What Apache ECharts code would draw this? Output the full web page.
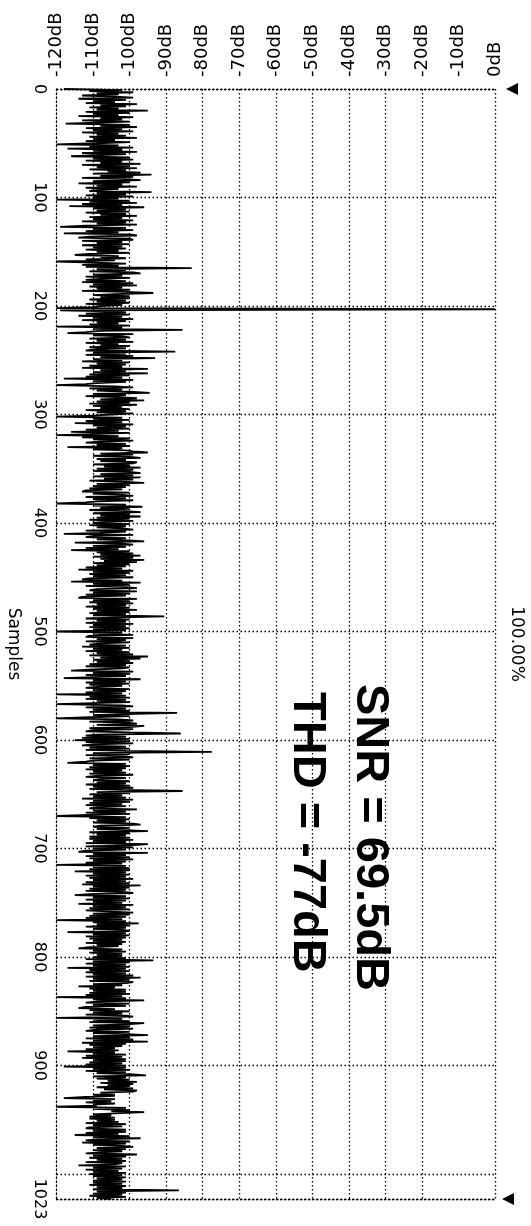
<!DOCTYPE html>
<html>
<head>
<meta charset="utf-8">
<script src="https://cdn.jsdelivr.net/npm/echarts@6/dist/echarts.min.js"></script>
<style>
html,body{margin:0;padding:0;background:#fff;}
#chart{width:531px;height:1226px;}
</style>
</head>
<body>
<div id="chart"></div>
<script>
// ---- axis ticks ----
const dbTicks = [-120,-110,-100,-90,-80,-70,-60,-50,-40,-30,-20,-10,0];
const dbGridLines = [-110,-100,-90,-80,-70,-60,-50,-40,-30,-20,0];
const sampleTicks = [0,100,200,300,400,500,600,700,800,900,1023];
const sampleAxisName = 'Samples';
const scaleNote = '100.00%';
const snrText = 'SNR = 69.5dB';
const thdText = 'THD = -77dB';

// ---- spectrum values (dB), one per sample ----
const dbSamples0to255 = [
-118,-102,-111,-99,-109,-103,-113,-104,-99,-114,-101,-110,-104,-112,-98,-108,
-101,-111,-103,-109,-95,-112,-100,-110,-103,-114,-99,-108,-102,-113,-100,-109,
-117.5,-100,-108,-98,-112,-102,-110,-99,-113,-103,-109,-101,-111,-98,-110,-104,
-112,-100,-109,-120,-103,-111,-99,-117,-102,-110,-98,-113,-101,-108,-116,-100,
-110,-99,-112,-102,-108,-97,-113,-100,-109,-98,-111,-101,-106,-97,-110,-94,
-108,-99,-113,-101,-97,-110,-100,-114,-102,-109,-98,-112,-103,-108,-111,-94,
-109,-101,-112,-99,-110,-103,-120,-100,-111,-98,-113,-102,-116.5,-96,-110,-101,
-109,-100,-112,-101,-108,-98,-111,-102,-110,-99,-113,-101,-109,-98,-112,-119,
-101,-110,-99,-112,-103,-118,-100,-98,-111,-114,-100,-99,-113,-102,-109,-100,
-113,-102,-110,-101,-112,-103,-109,-100,-111,-115,-103,-108,-101,-112,-104,-120,
-110,-101,-113,-103,-112,-83,-109,-101,-111,-99,-97,-110,-102,-112,-100,-108,
-112,-101,-113,-99,-110,-98,-111,-102,-109,-100,-113,-101,-93.5,-104,-110,-100,
-108,-100,-111,-101,-109,-100,-112,-102,-108,-110,-120,0,-119,-106,-101,-112,
-100,-114,-102,-110,-99,-113,-101,-109,-103,-111,-100,-120,-102,-110,-85.5,-108,
-112,-117,-99,-110,-102,-100,-111,-101,-109,-99,-112,-103,-108,-100,-111,-101,
-109,-112,-87.5,-110,-101,-112,-99,-108,-93,-110,-102,-113,-100,-109,-101,-111
];
const dbSamples256to511 = [
-102,-113,-95,-108,-101,-110,-95,-111,-100,-112,-102,-118,-99,-110,-101,-109,
-112,-120,-104,-99,-111,-102,-109,-100,-94.5,-110,-101,-112,-103,-98,-108,-96,
-109,-100,-111,-98,-110,-102,-108,-100,-112,-101,-109,-99,-105,-110,-120,-102,
-110,-100,-112,-102,-115,-99,-110,-101,-109,-100,-112,-103,-116,-100,-110,-120,
-103,-113,-100,-110,-99,-108,-112,-101,-109,-100,-117,-102,-110,-101,-99,-95,
-108,-99,-110,-100,-97,-109,-101,-108,-98,-99,-110,-100,-107,-97,-109,-99,
-110,-100,-97,-108,-99,-110,-97,-107,-99,-111,-101,-96,-109,-100,-110,-101,
-111,-102,-112,-113,-100,-110,-102,-99,-112,-101,-110,-99,-109,-112,-120,-101,
-110,-96.5,-108,-100,-111,-101,-97,-110,-100,-108,-97,-109,-100,-111,-99,-107,
-110,-100,-111,-101,-109,-102,-99,-112,-101,-108,-118,-99,-110,-112,-101,-109,
-100,-96,-115,-102,-99,-110,-101,-112,-103,-116,-100,-109,-99,-108,-97,-110,
-99,-108,-96,-107,-98,-110,-100,-109,-101,-112,-102,-114,-99,-110,-100,-111,
-101,-110,-99,-111,-113,-102,-116,-97,-110,-100,-112,-101,-98,-109,-111,-98,
-110,-100,-112,-101,-113,-114,-98,-110,-100,-111,-99,-109,-101,-112,-100,-110,
-98,-109,-100,-111,-101,-110,-90.5,-102,-112,-100,-109,-101,-112,-99,-110,-101,
-111,-100,-110,-101,-120,-102,-110,-99,-111,-112,-99,-109,-101,-112,-100,-108
];
const dbSamples512to767 = [
-111,-101,-113,-100,-110,-102,-112,-100,-109,-99,-111,-95,-108,-97,-110,-100,
-109,-99,-111,-101,-112,-100,-102,-110,-116,-99,-110,-100,-112,-101,-110,-118,
-97,-110,-101,-112,-100,-111,-102,-109,-112,-100,-110,-101,-112,-102,-120,-101,
-111,-100,-112,-101,-109,-100,-110,-120,-102,-99,-112,-101,-110,-100,-111,-87,
-101,-110,-100,-111,-120,-103,-99,-111,-101,-98,-109,-96,-100,-111,-99,-110,
-112,-100,-86,-109,-112,-101,-113,-100,-115,-100,-112,-99,-110,-113,-101,-111,
-100,-112,-101,-77.5,-110,-100,-112,-101,-99,-111,-100,-110,-112,-117,-101,-110,
-100,-111,-101,-112,-102,-110,-101,-111,-99,-109,-112,-101,-108,-110,-100,-109,
-101,-112,-100,-110,-99,-111,-102,-85.5,-109,-100,-111,-102,-110,-101,-113,-99,
-110,-100,-111,-102,-112,-101,-109,-111,-98,-110,-101,-112,-100,-111,-120,-101,
-111,-100,-109,-101,-110,-99,-97,-108,-110,-100,-109,-101,-95,-111,-100,-109,
-101,-111,-100,-111,-99,-110,-101,-112,-95,-100,-112,-99,-110,-101,-112,-114,
-95,-110,-101,-112,-100,-111,-99,-110,-101,-112,-102,-120,-101,-110,-100,-111,
-100,-115,-101,-110,-100,-112,-101,-111,-99,-110,-101,-112,-100,-113,-97,-110,
-100,-111,-101,-112,-102,-99,-111,-115,-101,-110,-100,-112,-101,-110,-102,-114,
-99,-110,-101,-111,-100,-112,-112,-99,-110,-100,-111,-101,-112,-102,-120,-101
];
const dbSamples768to1023 = [
-110,-97.5,-109,-100,-112,-101,-110,-102,-100,-117,-101,-110,-100,-112,-101,-111,
-102,-110,-101,-112,-102,-109,-103,-111,-114,-102,-110,-101,-111,-102,-109,-102,
-110,-101,-112,-93.5,-110,-100,-112,-101,-110,-100,-117,-101,-111,-100,-112,-101,
-110,-99,-112,-97,-110,-100,-111,-99,-101,-110,-102,-114,-104,-111,-101,-110,
-101,-111,-100,-112,-102,-120,-101,-110,-96,-109,-112,-100,-110,-101,-112,-114,
-104,-111,-100,-110,-102,-112,-101,-99,-120,-102,-110,-100,-111,-96,-101,-110,
-100,-111,-99,-109,-112,-100,-110,-101,-95,-110,-100,-112,-99,-110,-95,-113,
-101,-111,-102,-110,-104,-112,-103,-117,-104,-110,-101,-112,-102,-113,-101,-110,
-101,-111,-102,-112,-101,-118,-101,-110,-100,-112,-101,-109,-100,-95.5,-110,-101,
-109,-100,-106,-98,-108,-99,-106,-100,-109,-99,-107,-98,-99,-108,-104,-110,
-104,-112,-118,-104,-110,-105,-112,-104,-110,-109,-120,-101,-110,-100,-105,-96,
-104,-110,-105,-111,-104,-111,-104,-109,-103,-112,-101,-110,-102,-111,-112,-101,
-110,-101,-112,-103,-115,-100,-110,-97,-109,-112,-100,-113,-101,-110,-102,-99,
-109,-101,-110,-102,-108,-112,-98,-110,-101,-111,-102,-109,-101,-112,-102,-104,
-114,-101,-110,-102,-112,-103,-110,-101,-111,-102,-110,-101,-109,-102,-110,-101,
-110,-102,-111,-101,-109,-102,-110,-86.5,-109,-101,-110,-102,-111,-101,-109,-105
];

const spectrum = [].concat(dbSamples0to255, dbSamples256to511, dbSamples512to767, dbSamples768to1023);
const seriesData = spectrum.map(function (v, i) { return [v, i]; });

const dotted = { color: '#000', width: 1.3, type: [1.5, 2.5] };
const arrowPath = 'path://M0,0L10,0L5,10Z';

const chart = echarts.init(document.getElementById('chart'), null, { renderer: 'canvas' });
chart.setOption({
  animation: false,
  backgroundColor: '#fff',
  grid: { left: 56.5, right: 36, top: 89, bottom: 27, containLabel: false, outerBoundsMode: 'none' },
  xAxis: [
    {
      type: 'value', position: 'top', min: -120, max: 0, interval: 10,
      axisLine: { show: true, onZero: false, lineStyle: dotted, symbol: ['none', arrowPath], symbolSize: [12, 12], symbolOffset: [0, 17] },
      axisTick: { show: false },
      splitLine: { show: false },
      axisLabel: {
        show: true, rotate: -90, margin: 12, color: '#000',
        fontFamily: 'DejaVu Sans', fontSize: 18,
        customValues: dbTicks,
        formatter: function (v) { return v + 'dB'; }
      }
    },
    {
      type: 'value', position: 'bottom', min: -120, max: 0,
      axisLine: { show: true, onZero: false, lineStyle: dotted, symbol: ['none', arrowPath], symbolSize: [12, 12], symbolOffset: [0, 13] },
      axisTick: { show: false }, axisLabel: { show: false }, splitLine: { show: false }
    }
  ],
  yAxis: {
    type: 'value', min: 0, max: 1023, interval: 100, inverse: true, position: 'left',
    name: sampleAxisName, nameLocation: 'middle', nameRotate: -90, nameGap: 35,
    nameTextStyle: { fontFamily: 'DejaVu Sans', fontSize: 17, color: '#000' },
    axisLine: { show: true, onZero: false, lineStyle: dotted },
    axisTick: { show: false },
    splitLine: { show: true, lineStyle: dotted },
    axisLabel: {
      show: true, rotate: -90, margin: 9, color: '#000',
      fontFamily: 'DejaVu Sans', fontSize: 16,
      customValues: sampleTicks,
      formatter: function (v) { return v === 1000 ? '' : String(v); }
    }
  },
  series: [{
    type: 'line',
    xAxisIndex: 0,
    data: seriesData,
    symbol: 'none',
    lineStyle: { color: '#000', width: 1.8 },
    z: 3,
    markLine: {
      silent: true, symbol: ['none', 'none'], label: { show: false },
      lineStyle: dotted, animation: false,
      data: dbGridLines.map(function (v) { return { xAxis: v }; })
    }
  }],
  graphic: [
    { type: 'text', x: 369.5, y: 684, rotation: -Math.PI / 2,
      style: { text: snrText, fontFamily: '"Liberation Sans", Arial, sans-serif', fontWeight: 'bold', fontSize: 47, fill: '#000', align: 'left', verticalAlign: 'middle' } },
    { type: 'text', x: 306.5, y: 692, rotation: -Math.PI / 2,
      style: { text: thdText, fontFamily: '"Liberation Sans", Arial, sans-serif', fontWeight: 'bold', fontSize: 47, fill: '#000', align: 'left', verticalAlign: 'middle' } },
    { type: 'text', x: 516, y: 644, rotation: -Math.PI / 2,
      style: { text: scaleNote, fontFamily: 'DejaVu Sans', fontSize: 17, fill: '#000', align: 'center', verticalAlign: 'middle' } }
  ]
});
</script>
</body>
</html>
